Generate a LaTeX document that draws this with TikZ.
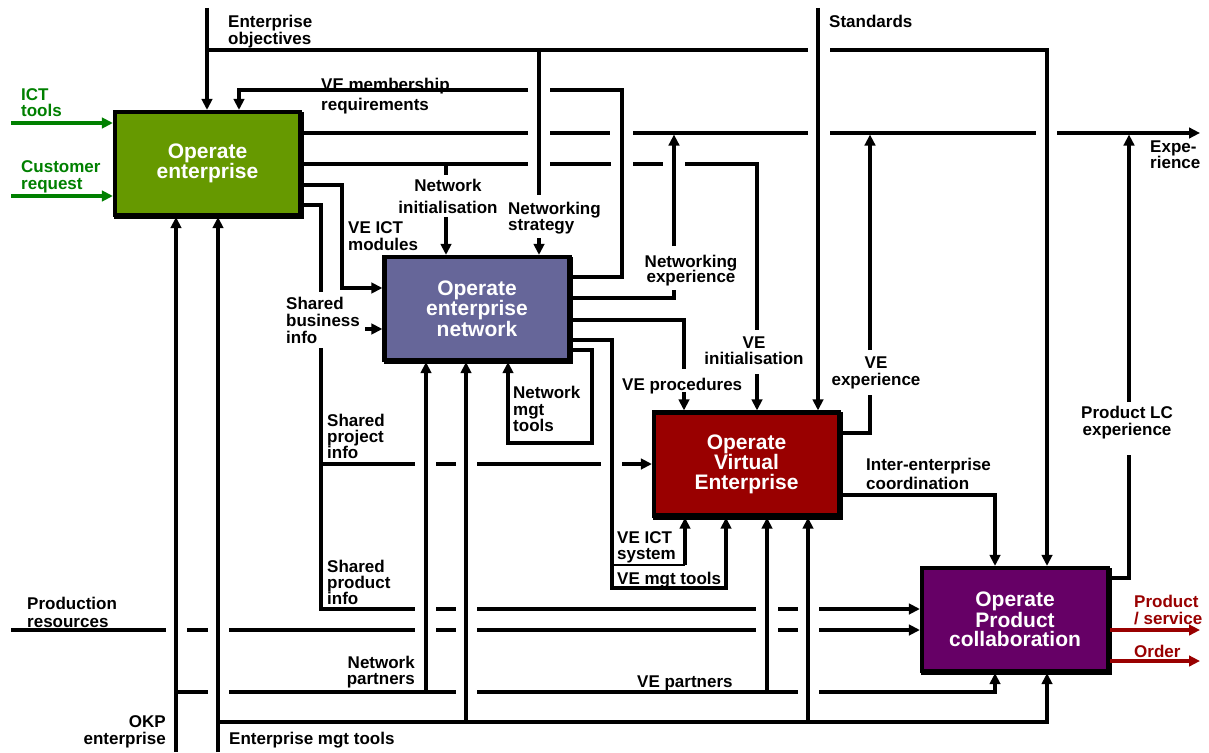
\documentclass[tikz,border=0pt]{standalone}
\usepackage{fontspec}
\setmainfont{Liberation Sans}
\usetikzlibrary{arrows.meta,backgrounds}
\definecolor{entgreen}{HTML}{669900}
\definecolor{netblue}{HTML}{666699}
\definecolor{vered}{HTML}{990000}
\definecolor{pcpurple}{HTML}{660066}
\definecolor{ingreen}{HTML}{008000}
\definecolor{outred}{HTML}{990000}
\begin{document}
\begin{tikzpicture}[x=1pt,y=-1pt,
  ln/.style={line width=3.1pt},
  thinln/.style={line width=1.8pt},
  arr/.style={ln,-{Triangle[length=11pt,width=10.5pt]}},
  garr/.style={arr,draw=ingreen},
  rarr/.style={arr,draw=outred},
  box/.style={draw=black,line width=4.2pt,text=white,align=center,
    font=\bfseries\fontsize{21}{19.5}\selectfont,
    minimum width=185pt,minimum height=103pt,inner sep=0pt},
  lbl/.style={font=\bfseries\fontsize{17}{17}\selectfont,inner sep=0pt,align=left,anchor=north west},
  clbl/.style={lbl,align=center,anchor=north},
  rlbl/.style={lbl,align=right,anchor=north east}]
\useasboundingbox (0,0) rectangle (1209,752);

% activity boxes
\node[box,fill=entgreen] (E) at (207.5,163.5) {Operate\\enterprise};
\node[box,fill=netblue]  (N) at (477,308.5) {Operate\\enterprise\\network};
\node[box,fill=vered]    (V) at (746.5,464) {Operate\\Virtual\\Enterprise};
\node[box,fill=pcpurple,minimum width=186pt] (P) at (1015,619.5) {Operate\\Product\\collaboration};

\begin{scope}[on background layer]
  \fill[white] (0,0) rectangle (1209,752);
  \foreach \b in {E,N,V,P}
    \fill[black] ([shift={(1.5pt,-2pt)}]\b.north west) rectangle ([shift={(1.5pt,-2pt)}]\b.south east);
\end{scope}

% inputs of the enterprise
\draw[garr] (11,123) -- (11,123 -| E.west);
\draw[garr] (11,196) -- (11,196 -| E.west);

% enterprise objectives
\draw[arr] (207,8) -- (207,8 |- E.north);
\draw[ln] (207,50) -- (808,50);
\draw[arr] (830,50) -- (1047,50) -- (1047,0 |- P.north);
\draw[ln] (539,50) -- (539,195);
\draw[arr] (539,238) -- (539,0 |- N.north);

% standards
\draw[arr] (818,8) -- (818,0 |- V.north);

% VE membership requirements
\draw[arr] (N.east |- 0,277) -- (622,277) -- (622,90) -- (550,90)
  (528,90) -- (239,90) -- (239,0 |- E.north);

% experience
\draw[arr] (E.east |- 0,133) -- (528,133) (550,133) -- (610,133)
  (633,133) -- (808,133) (830,133) -- (1036,133) (1057,133) -- (1200,133);

% network and VE initialisation
\draw[ln] (E.east |- 0,164) -- (528,164) (550,164) -- (611,164)
  (633,164) -- (663,164) (685,164) -- (757,164) -- (757,330);
\draw[arr] (757,374) -- (757,0 |- V.north);
\draw[ln] (446,164) -- (446,175);
\draw[arr] (446,217) -- (446,0 |- N.north);

% VE ICT modules
\draw[arr] (E.east |- 0,185) -- (342,185) -- (342,288) -- (342,288 -| N.west);

% shared information
\draw[ln] (E.east |- 0,205) -- (321,205) -- (321,292);
\draw[arr] (365,329) -- (365,329 -| N.west);
\draw[arr] (321,348) -- (321,609) -- (415,609) (436,609) -- (456,609)
  (477,609) -- (756,609) (778,609) -- (798,609) (819,609) -- (819,609 -| P.west);
\draw[arr] (321,464) -- (415,464) (436,464) -- (456,464) (477,464) -- (601,464)
  (622,464) -- (622,464 -| V.west);

% production resources
\draw[arr] (11,630) -- (166,630) (187,630) -- (208,630) (229,630) -- (415,630)
  (436,630) -- (456,630) (477,630) -- (756,630) (778,630) -- (798,630)
  (819,630) -- (819,630 -| P.west);

% OKP enterprise and partners
\draw[arr] (176,752) -- (176,0 |- E.south);
\draw[arr] (176,692) -- (208,692) (229,692) -- (456,692) (477,692) -- (798,692)
  (819,692) -- (995,692) -- (995,0 |- P.south);
\draw[arr] (426,692) -- (426,0 |- N.south);
\draw[arr] (767,692) -- (767,0 |- V.south);

% enterprise management tools
\draw[arr] (218,752) -- (218,0 |- E.south);
\draw[arr] (218,722) -- (1047,722) -- (1047,0 |- P.south);
\draw[arr] (466,722) -- (466,0 |- N.south);
\draw[arr] (808,722) -- (808,0 |- V.south);

% outputs of the enterprise network
\draw[ln] (N.east |- 0,298) -- (674,298) -- (674,290);
\draw[arr] (674,246) -- (674,134.5);
\draw[ln] (N.east |- 0,320) -- (684,320) -- (684,369);
\draw[arr] (684,392) -- (684,0 |- V.north);
\draw[arr] (N.east |- 0,340) -- (612,340) -- (612,588) -- (726,588) -- (726,0 |- V.south);
\draw[thinln] (612,565) -- (685,565);
\draw[arr] (685,565) -- (685,0 |- V.south);
\draw[arr] (N.east |- 0,350) -- (592,350) -- (592,443) -- (508,443) -- (508,0 |- N.south);

% outputs of the virtual enterprise
\draw[ln] (V.east |- 0,433) -- (870,433) -- (870,395);
\draw[arr] (870,350) -- (870,134.5);
\draw[arr] (V.east |- 0,495) -- (995,495) -- (995,0 |- P.north);

% outputs of the product collaboration
\draw[ln] (P.east |- 0,578) -- (1129,578) -- (1129,455);
\draw[arr] (1129,402) -- (1129,134.5);
\draw[rarr] (P.east |- 0,630) -- (1200,630);
\draw[rarr] (P.east |- 0,661) -- (1200,661);

% labels
\node[lbl] (lObj) at (228,15) {Enterprise\\objectives};
\node[lbl] (lStd) at (829,15) {Standards};
\node[lbl] (lMem) at (321,78) {VE membership\\[3pt]requirements};
\node[lbl,text=ingreen] (lIct) at (21,88) {ICT\\[-1pt]tools};
\node[lbl,text=ingreen] (lCust) at (21,160) {Customer\\request};
\node[clbl] (lNetInit) at (448,179) {Network\\[5pt]initialisation};
\node[lbl] (lStrat) at (508,202) {Networking\\[-1pt]strategy};
\node[lbl] (lMod) at (348,221) {VE ICT\\modules};
\node[lbl] (lBus) at (286,297) {Shared\\business\\info};
\node[clbl] (lNetExp) at (691,255) {Networking\\[-2pt]experience};
\node[lbl] (lProc) at (622,378) {VE procedures};
\node[clbl] (lVEInit) at (754,337) {VE\\[-1pt]initialisation};
\node[clbl] (lVEExp) at (876,357) {VE\\experience};
\node[lbl] (lMgt) at (513,386) {Network\\[-0.5pt]mgt\\[-0.5pt]tools};
\node[lbl] (lProj) at (327,414) {Shared\\[-1pt]project\\[-1pt]info};
\node[lbl] (lCoord) at (866,458) {Inter-enterprise\\[2pt]coordination};
\node[clbl] (lLC) at (1127,406) {Product LC\\experience};
\node[lbl] (lExp) at (1150,141) {Expe-\\[-1pt]rience};
\node[lbl,text=outred] (lProd) at (1134,595) {Product\\/ service};
\node[lbl,text=outred] (lOrd) at (1134,645) {Order};
\node[lbl] (lSys) at (617,531) {VE ICT\\[-1pt]system};
\node[lbl] (lVEMgt) at (617,572) {VE mgt tools};
\node[lbl] (lPinfo) at (327,560) {Shared\\[-1pt]product\\[-1pt]info};
\node[lbl] (lRes) at (27,597) {Production\\[1pt]resources};
\node[rlbl] (lNP) at (415,656) {Network\\[-1pt]partners};
\node[rlbl] (lOKP) at (166,715) {OKP\\enterprise};
\node[lbl] (lEMT) at (229,732) {Enterprise mgt tools};
\node[lbl] (lVEP) at (637,676) {VE partners};
\end{tikzpicture}
\end{document}
